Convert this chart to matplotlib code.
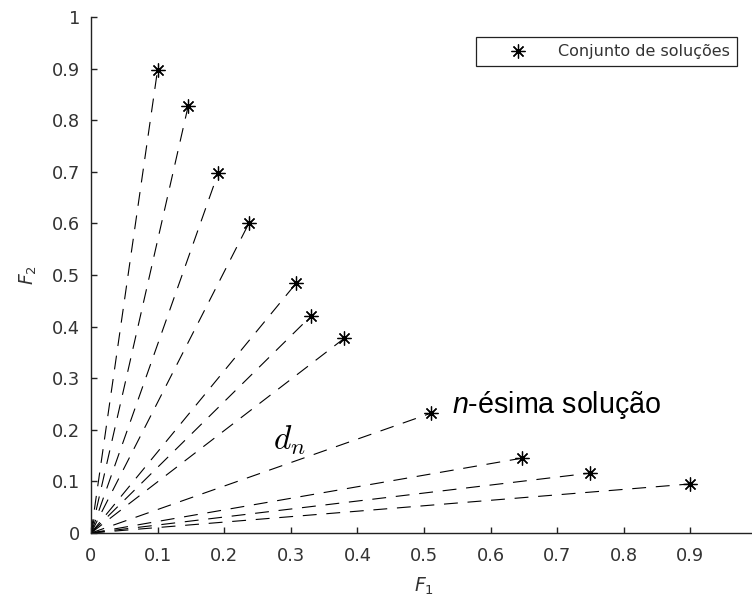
import matplotlib
matplotlib.use("Agg")
import matplotlib.pyplot as plt
from matplotlib.ticker import FuncFormatter, MultipleLocator

# solution set (F1, F2)
F1_VALUES = [0.100, 0.146, 0.191, 0.237, 0.308, 0.330, 0.380, 0.510, 0.647, 0.749, 0.899]
F2_VALUES = [0.898, 0.828, 0.698, 0.600, 0.484, 0.420, 0.377, 0.232, 0.145, 0.116, 0.095]

LEGEND_LABEL = "Conjunto de soluções"
X_LABEL = r"$F_1$"
Y_LABEL = r"$F_2$"
DIST_LABEL = r"$d_n$"
NTH_LABEL = r"$n$-ésima solução"
NTH_INDEX = 7

plt.rcParams["font.family"] = ["DejaVu Sans"]
plt.rcParams["mathtext.fontset"] = "custom"
plt.rcParams["mathtext.it"] = "Liberation Sans:italic"
plt.rcParams["mathtext.rm"] = "Liberation Sans"
plt.rcParams["lines.scale_dashes"] = False

ASTERISK = (8, 2, 0)


def main():
    fig = plt.figure(figsize=(7.52, 6.07), dpi=100)
    ax = fig.add_axes([91 / 752, 74 / 607, 666 / 752, 516 / 607])

    for x, y in zip(F1_VALUES, F2_VALUES):
        ax.plot([0, x], [0, y], color="black", linewidth=0.8, linestyle=(0, (10, 7)))
    ax.plot(F1_VALUES, F2_VALUES, linestyle="none", marker=ASTERISK, markersize=10,
            markeredgewidth=0.9, color="black", label=LEGEND_LABEL)

    ax.set_xlim(0, 1)
    ax.set_ylim(0, 1)
    ax.xaxis.set_major_locator(MultipleLocator(0.1))
    ax.yaxis.set_major_locator(MultipleLocator(0.1))
    fmt = FuncFormatter(lambda v, pos: f"{v:g}")
    ax.xaxis.set_major_formatter(fmt)
    ax.yaxis.set_major_formatter(fmt)

    for side in ["top", "right"]:
        ax.spines[side].set_visible(False)
    for side in ["left", "bottom"]:
        ax.spines[side].set_linewidth(1.0)
        ax.spines[side].set_color("#222222")
    ax.tick_params(direction="in", length=4, width=1.0, color="#222222",
                   labelsize=12.8, labelcolor="#333333")
    ax.tick_params(axis="y", pad=8)
    ax.tick_params(axis="x", pad=10)

    ax.set_xlabel(X_LABEL, fontsize=13.5, color="#333333", labelpad=8,
                  math_fontfamily="dejavusans")
    ax.set_ylabel(Y_LABEL, fontsize=13.5, color="#333333", labelpad=9,
                  math_fontfamily="dejavusans")

    ax.text(0.273, 0.162, DIST_LABEL, fontsize=24, math_fontfamily="cm",
            ha="left", va="baseline")
    ax.text(F1_VALUES[NTH_INDEX] + 0.032, 0.233, NTH_LABEL, fontsize=20.6,
            family="Liberation Sans", math_fontfamily="custom",
            ha="left", va="baseline")

    leg = ax.legend(loc="upper right", bbox_to_anchor=(737 / 752, 1 - 37 / 607),
                    bbox_transform=fig.transFigure, borderaxespad=0,
                    fancybox=False, framealpha=1, edgecolor="#222222",
                    fontsize=11.5, numpoints=1, handlelength=4.4,
                    handletextpad=0.3, borderpad=0.45)
    leg.get_frame().set_linewidth(0.9)
    for text in leg.get_texts():
        text.set_color("#333333")

    fig.savefig("out.png", dpi=100)
    plt.close(fig)


if __name__ == "__main__":
    main()
